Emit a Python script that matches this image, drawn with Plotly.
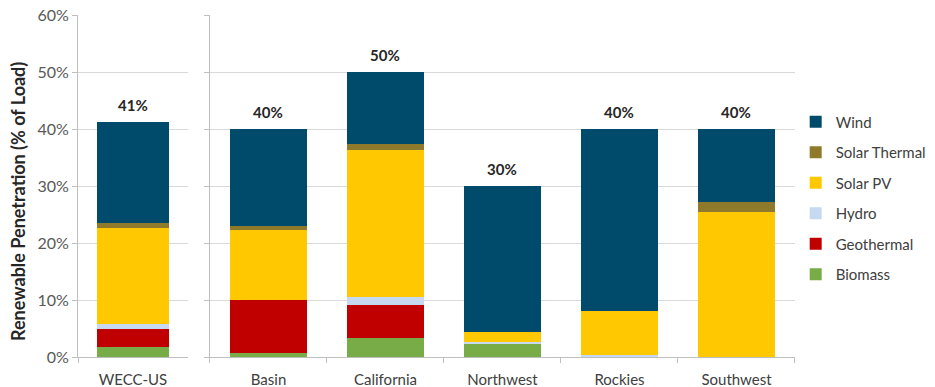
import plotly.graph_objects as go
from plotly.subplots import make_subplots

# Renewable penetration by region, % of load
regions = ["WECC-US", "Basin", "California", "Northwest", "Rockies", "Southwest"]
biomass = [1.8, 0.7, 3.3, 2.4, 0.0, 0.0]
geothermal = [3.2, 9.3, 5.8, 0.0, 0.0, 0.0]
hydro = [0.8, 0.0, 1.5, 0.3, 0.4, 0.0]
solar_pv = [16.8, 12.3, 25.7, 1.7, 7.6, 25.4]
solar_thermal = [0.9, 0.6, 1.1, 0.0, 0.0, 1.8]
wind = [17.8, 17.1, 12.6, 25.6, 32.0, 12.8]

series = [
    ("Biomass", biomass, "#77AC47"),
    ("Geothermal", geothermal, "#C00000"),
    ("Hydro", hydro, "#C6D9F1"),
    ("Solar PV", solar_pv, "#FFC800"),
    ("Solar Thermal", solar_thermal, "#8F7A2C"),
    ("Wind", wind, "#004B6C"),
]

FONT = "Lato, Calibri, Arial, sans-serif"
GRID = "#D9D9D9"
AXIS = "#BFBFBF"

fig = make_subplots(rows=1, cols=2, shared_yaxes=False, horizontal_spacing=0)

left_idx = [0]
right_idx = list(range(1, len(regions)))

n = len(series)
for k, (name, vals, color) in enumerate(series):
    for col, idx in ((1, left_idx), (2, right_idx)):
        fig.add_trace(
            go.Bar(
                x=[regions[i] for i in idx],
                y=[vals[i] for i in idx],
                name=name,
                legendgroup=name,
                legendrank=n - k,
                showlegend=(col == 1),
                marker=dict(color=color, line=dict(width=0)),
                hoverinfo="skip",
            ),
            row=1, col=col,
        )

# Total labels above each stacked bar
totals = [sum(s[1][i] for s in series) for i in range(len(regions))]
for i, region in enumerate(regions):
    xref = "x" if i == 0 else "x2"
    fig.add_annotation(
        x=region, y=totals[i], xref=xref, yref="y",
        text=f"<b>{round(totals[i])}%</b>",
        showarrow=False, yshift=17,
        font=dict(family=FONT, size=15, color="#262626"),
    )

# Vertical axis title, placed left of the tick labels
fig.add_annotation(
    x=-0.0837, y=0.456, xref="paper", yref="paper",
    xanchor="center", yanchor="middle",
    text="<b>Renewable Penetration (% of Load)</b>",
    textangle=-90, showarrow=False,
    font=dict(family=FONT, size=18, color="#262626"),
)

yaxis_common = dict(
    range=[0, 60], dtick=10, ticksuffix="%",
    showgrid=True, gridcolor=GRID, gridwidth=1,
    showline=True, linecolor=AXIS, linewidth=1,
    ticks="outside", ticklen=5, tickcolor=AXIS,
    zeroline=False,
    tickfont=dict(family=FONT, size=16, color="#595959"),
)
xaxis_common = dict(
    showline=True, linecolor=AXIS, linewidth=1,
    ticks="outside", ticklen=5, tickcolor=AXIS,
    tickson="boundaries",
    ticklabelstandoff=9,
    tickfont=dict(family=FONT, size=15, color="#404040"),
)

fig.update_layout(
    barmode="stack",
    bargap=0.34,
    width=935, height=387,
    margin=dict(l=78, r=140, t=15, b=30, autoexpand=False),
    paper_bgcolor="white", plot_bgcolor="white",
    font=dict(family=FONT),
    xaxis=dict(domain=[0, 0.1534], **xaxis_common),
    xaxis2=dict(domain=[0.1841, 1], **xaxis_common),
    yaxis=yaxis_common,
    yaxis2=dict(showticklabels=False, matches="y", **yaxis_common),
    legend=dict(
        traceorder="grouped",
        tracegroupgap=8,
        xref="container", x=0.851, xanchor="left",
        y=0.465, yanchor="middle",
        font=dict(family=FONT, size=15, color="#404040"),
        itemwidth=30,
    ),
)

fig.write_html("out.html")
